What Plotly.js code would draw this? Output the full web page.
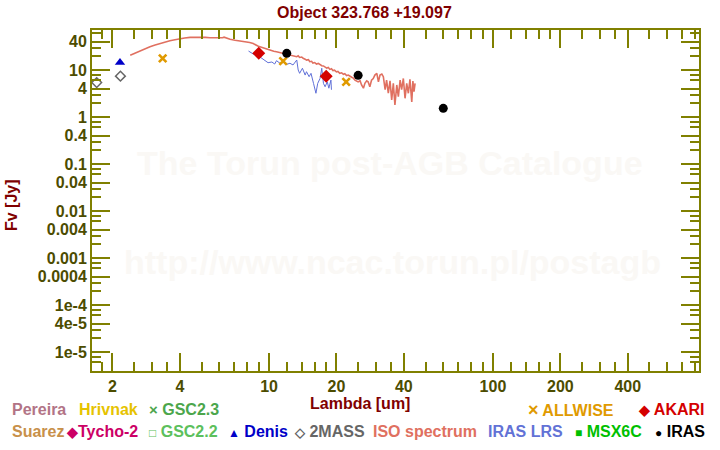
<!DOCTYPE html>
<html>
<head>
<meta charset="utf-8">
<script src="https://cdn.plot.ly/plotly-3.0.1.min.js"></script>
<style>body{margin:0;padding:0;background:#fff;} #chart{width:720px;height:450px;}</style>
</head>
<body>
<div id="chart"></div>
<script>
// ---- data ----
var isoWave = [2.40,2.55,2.66,2.80,2.94,3.10,3.26,3.45,3.61,3.80,4.00,4.20,4.44,4.70,4.92,5.20,5.45,5.75,6.04,6.20,6.30,6.45,6.70,7.05,7.40,7.80,8.20,8.50,8.96,9.40,9.77,10.1,10.5,10.8,11.2,11.6,12.0,12.4,12.8,13.3,13.5,13.7,14.0,14.2,14.5,14.7,15.0,15.2,15.5,15.7,16.0,16.3,16.6,16.9,17.2,17.5,17.8,18.1,18.4,18.7,19.0,19.3,19.6,20.0,20.3,20.7,21.1,21.5,21.8,22.2,22.6,23.0,23.4,23.8,24.2,25.0,25.5,25.9,26.4,26.8,27.3,27.7,28.2,28.7,29.2,29.7,30.3,30.8,31.3,31.9,32.4,33.0,33.5,34.1,34.7,35.3,35.9,36.5,37.2,37.8,38.5,39.1,39.8,40.5,41.2,41.9,42.6,43.4,43.9,44.4,44.9];
var isoFlux = [20.6,23.5,25.7,28.5,31.3,34.0,36.9,39.5,42.0,44.0,46.4,48.0,49.5,50.0,50.2,49.5,48.6,48.0,47.2,48.5,50.0,47.5,44.9,43.0,41.0,40.0,38.5,36.5,32.0,29.5,27.6,26.5,25.0,24.5,23.5,22.7,22.0,21.0,20.2,19.2,20.0,18.5,18.9,17.7,17.0,16.2,16.6,15.0,15.3,14.0,14.4,13.4,13.8,12.8,12.3,12.2,11.5,11.0,11.3,10.3,10.6,9.7,9.9,9.1,9.3,8.5,8.7,8.1,8.3,7.6,7.8,7.2,7.0,6.7,6.1,5.6,5.9,4.8,4.1,5.2,5.9,5.6,4.4,6.1,6.6,7.8,8.5,5.6,7.8,8.2,7.2,3.8,6.1,3.2,5.9,2.3,5.2,1.8,4.8,2.7,6.1,3.8,6.6,2.5,5.2,3.2,6.3,2.1,5.8,3.45,5.2];

var lrsWave = [8.1,8.5,8.9,9.3,9.6,9.9,10.3,10.6,10.8,11.2,11.6,12.0,12.4,12.8,13.3,13.5,13.7,14.1,14.5,14.7,15.1,15.4,15.8,16.2,16.5,16.9,17.2,17.5,17.8,18.2,18.5,18.9,19.0];
var lrsFlux = [25.3,21.9,20.5,17.7,15.8,14.3,14.8,13.4,15.8,13.9,14.5,13.2,13.9,12.8,16.3,10.0,8.5,10.9,7.8,9.2,7.2,8.5,5.2,3.2,5.2,6.6,10.9,5.2,4.4,5.6,4.1,6.1,3.8];

var twomassWave = [1.70, 2.17];
var twomassFlux = [5.4, 7.4];
var denisWave = [2.16];
var denisFlux = [14.5];
var allwiseWave = [3.35, 11.56, 22.1];
var allwiseFlux = [17.7, 15.5, 5.6];
var akariWave = [9.0, 18.0];
var akariFlux = [22.7, 7.4];
var irasWave = [12, 25, 60];
var irasFlux = [22.6, 7.7, 1.53];

var xTickVals = [2,4,10,20,40,100,200,400];
var xTickText = ['2','4','10','20','40','100','200','400'];
var yTickVals = [40,10,4,1,0.4,0.1,0.04,0.01,0.004,0.001,0.0004,1e-4,4e-5,1e-5];
var yTickText = ['40','10','4','1','0.4','0.1','0.04','0.01','0.004','0.001','0.0004','1e-4','4e-5','1e-5'];
var xMinorMant = [1.2,1.4,1.6,1.8,2.5,3,3.5,5,6,7,8,9];
var yMinorMant = [2,3,6,8];

// ---- minor tick positions ----
var xMinor = [];
[1,10,100].forEach(function(d){ xMinorMant.forEach(function(m){ xMinor.push(+(m*d).toPrecision(3)); }); });
var yMinor = [];
for (var e = -6; e <= 1; e++) { yMinorMant.forEach(function(m){ yMinor.push(m*Math.pow(10,e)); }); }

var OLIVE = '#808000';
var TICKFONT = {family: 'Liberation Sans, Arial, sans-serif', size: 16, color: '#4c4c00', weight: 700};
var FONT = 'Liberation Sans, Arial, sans-serif';

var traces = [
  {x: isoWave, y: isoFlux, type: 'scatter', mode: 'lines', line: {color: '#e07060', width: 1.6}, name: 'ISO spectrum'},
  {x: lrsWave, y: lrsFlux, type: 'scatter', mode: 'lines', line: {color: '#6070d8', width: 1}, name: 'IRAS LRS'},
  {x: twomassWave, y: twomassFlux, type: 'scatter', mode: 'markers', marker: {symbol: 'diamond-open', size: 7.5, color: '#666666', line: {width: 1.5, color: '#666666'}}, name: '2MASS'},
  {x: denisWave, y: denisFlux, type: 'scatter', mode: 'markers', marker: {symbol: 'triangle-up', size: 9, color: '#0000c8'}, name: 'Denis'},
  {x: allwiseWave, y: allwiseFlux, type: 'scatter', mode: 'markers', marker: {symbol: 'x-thin-open', size: 7.5, color: '#e09a00', line: {width: 2.6, color: '#e09a00'}}, name: 'ALLWISE'},
  {x: akariWave, y: akariFlux, type: 'scatter', mode: 'markers', marker: {symbol: 'diamond', size: 10, color: '#d40000'}, name: 'AKARI'},
  {x: irasWave, y: irasFlux, type: 'scatter', mode: 'markers', marker: {symbol: 'circle', size: 9, color: '#000000'}, name: 'IRAS'}
];

function ann(text, x, y, color, size, xanchor, extra) {
  var a = {text: text, x: x, y: y, xref: 'paper', yref: 'paper', xanchor: xanchor || 'left', yanchor: 'middle',
    showarrow: false, font: {family: FONT, size: size || 16, color: color, weight: 700}};
  if (extra) for (var k in extra) a[k] = extra[k];
  return a;
}
// paper coords helpers: plot area x 92..699, y 30..371 (pixels)
function px(x) { return (x - 92) / 607; }
function py(y) { return (371 - y) / 341; }
function sym(s, sz) { return '<span style="font-size:' + sz + 'px">' + s + '</span>'; }

var annotations = [
  ann('The Torun post-AGB Catalogue', px(390), py(163), '#faf8f5', 34, 'center'),
  ann('http://www.ncac.torun.pl/postagb', px(392), py(262), '#faf8f5', 34, 'center'),
  ann('Object 323.768 +19.097', px(364), py(12), '#800000', 16, 'center'),
  ann('Fv [Jy]', px(11), py(205), '#800000', 16, 'center', {textangle: -90}),
  ann('Lambda [um]', px(360), py(403), '#800000', 16, 'center'),
  // legend row 1
  ann('Pereira', px(10), py(410), '#b27486'),
  ann('Hrivnak', px(77), py(410), '#e6c300'),
  ann(sym('×', 15) + ' GSC2.3', px(147), py(410), '#4ca64c'),
  ann(sym('×', 18) + ' ALLWISE', px(526), py(410), '#e09a00'),
  ann(sym('◆', 14) + ' AKARI', px(636), py(410), '#d40000'),
  // legend row 2
  ann('Suarez', px(10), py(431), '#c8904a'),
  ann(sym('◆', 14) + 'Tycho-2', px(64), py(431), '#cc0066'),
  ann(sym('□', 12) + ' GSC2.2', px(147), py(431), '#5cc05c'),
  ann(sym('▲', 12) + ' Denis', px(226), py(431), '#0000c8'),
  ann(sym('◇', 13) + ' 2MASS', px(292), py(431), '#666666'),
  ann('ISO spectrum', px(371), py(431), '#e07060'),
  ann('IRAS LRS', px(486), py(431), '#6272d6'),
  ann(sym('■', 12) + ' MSX6C', px(573), py(431), '#00c000'),
  ann(sym('●', 12) + ' IRAS', px(653), py(431), '#000000')
];

var layout = {
  width: 720, height: 450,
  margin: {l: 92, r: 21, t: 30, b: 79, pad: 0},
  paper_bgcolor: '#ffffff', plot_bgcolor: '#ffffff',
  showlegend: false,
  xaxis: {
    type: 'log', range: [Math.log10(1.62), Math.log10(832)],
    tickmode: 'array', tickvals: xTickVals, ticktext: xTickText,
    ticks: 'inside', ticklen: 18, tickwidth: 2, tickcolor: OLIVE,
    showline: true, linecolor: OLIVE, linewidth: 2, mirror: 'ticks',
    showgrid: false, zeroline: false, tickfont: TICKFONT,
    minor: {tickmode: 'array', tickvals: xMinor, ticks: 'inside', ticklen: 9, tickwidth: 2, tickcolor: OLIVE, showgrid: false}
  },
  yaxis: {
    type: 'log', range: [-5.404, 1.851],
    tickmode: 'array', tickvals: yTickVals, ticktext: yTickText,
    ticks: 'inside', ticklen: 18, tickwidth: 2, tickcolor: OLIVE,
    showline: true, linecolor: OLIVE, linewidth: 2, mirror: 'ticks',
    showgrid: false, zeroline: false, tickfont: TICKFONT,
    minor: {tickmode: 'array', tickvals: yMinor, ticks: 'inside', ticklen: 9, tickwidth: 2, tickcolor: OLIVE, showgrid: false}
  },
  annotations: annotations
};

Plotly.newPlot('chart', traces, layout, {displayModeBar: false, staticPlot: true});
</script>
</body>
</html>
